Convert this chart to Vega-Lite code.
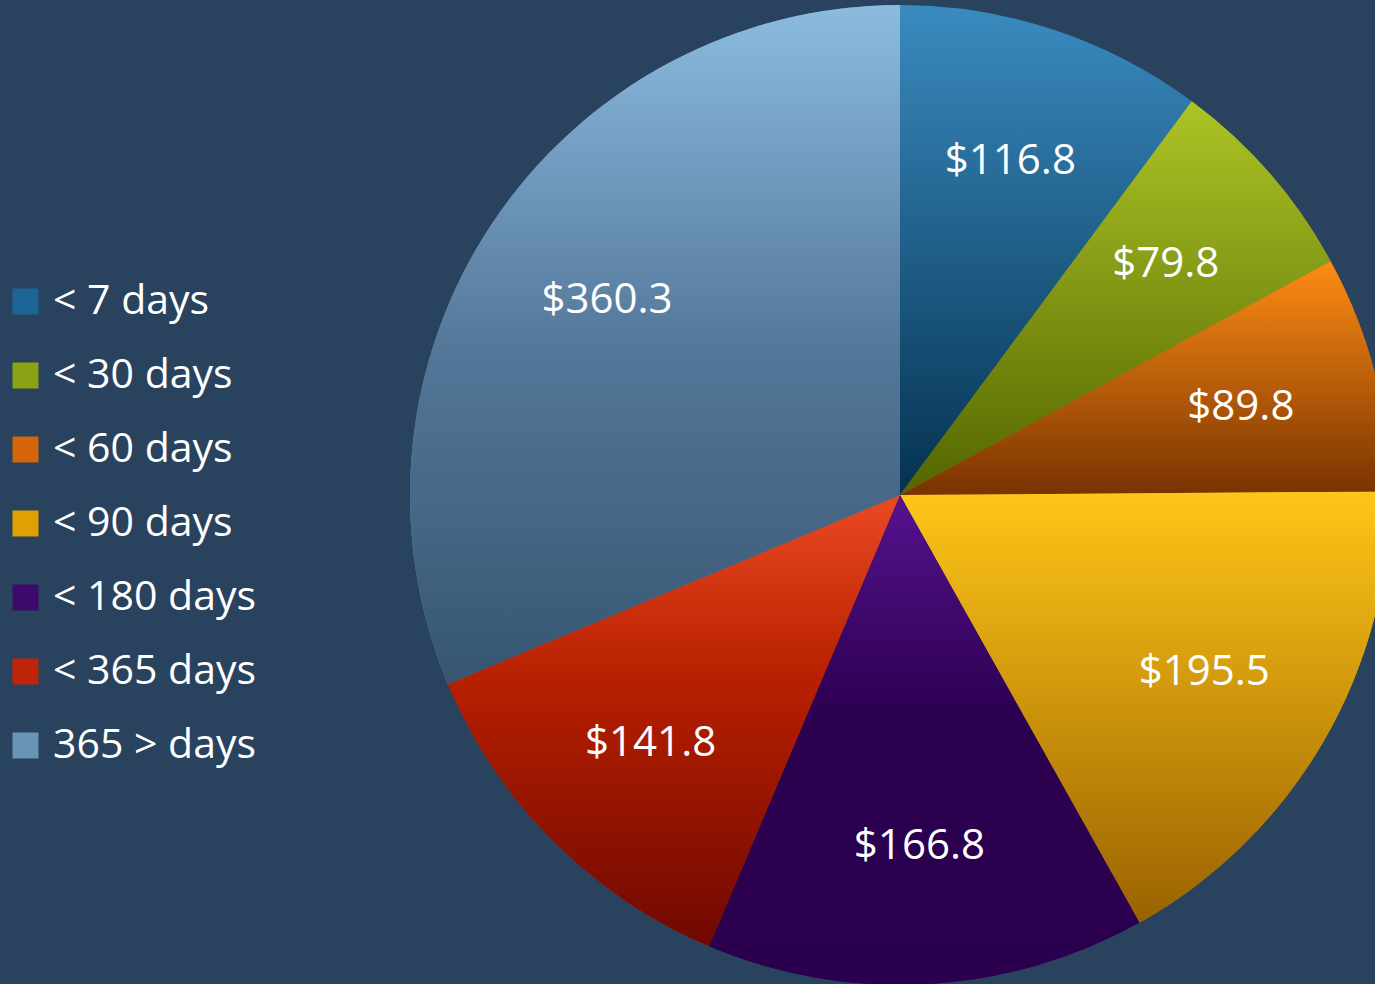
{
  "$schema": "https://vega.github.io/schema/vega-lite/v6.json",
  "autosize": "none",
  "width": 1800,
  "height": 990,
  "padding": 0,
  "background": "#29425e",
  "config": {"view": {"stroke": null}, "font": "Open Sans"},
  "data": {"values": [
    {"k": 1, "bucket": "< 7 days", "amount": 116.8, "label": "$116.8"},
    {"k": 2, "bucket": "< 30 days", "amount": 79.8, "label": "$79.8"},
    {"k": 3, "bucket": "< 60 days", "amount": 89.8, "label": "$89.8"},
    {"k": 4, "bucket": "< 90 days", "amount": 195.5, "label": "$195.5"},
    {"k": 5, "bucket": "< 180 days", "amount": 166.8, "label": "$166.8"},
    {"k": 6, "bucket": "< 365 days", "amount": 141.8, "label": "$141.8"},
    {"k": 7, "bucket": "365 > days", "amount": 360.3, "label": "$360.3"}
  ]},
  "encoding": {
    "theta": {"field": "amount", "type": "quantitative", "stack": true},
    "order": {"field": "k", "type": "quantitative"}
  },
  "layer": [
    {
      "mark": {"type": "arc", "outerRadius": 490},
      "encoding": {
        "color": {
          "field": "bucket", "type": "nominal",
          "sort": ["< 7 days", "< 30 days", "< 60 days", "< 90 days", "< 180 days", "< 365 days", "365 > days"],
          "scale": {
            "domain": ["< 7 days", "< 30 days", "< 60 days", "< 90 days", "< 180 days", "< 365 days", "365 > days"],
            "range": ["#1d6596", "#8aa214", "#d4650a", "#e0a000", "#3c0a6a", "#c02408", "#6a94b6"]
          },
          "legend": {
            "orient": "none", "legendX": 5, "legendY": 281,
            "title": null, "symbolType": "square", "symbolSize": 676,
            "symbolStrokeWidth": 0, "labelFontSize": 41, "labelColor": "#ffffff",
            "labelFont": "Open Sans", "labelOffset": 7, "rowPadding": 32, "padding": 0,
            "labelLimit": 400
          }
        }
      }
    },
    {
      "mark": {"type": "arc", "outerRadius": 490},
      "encoding": {
        "fill": {
          "condition": [
            {"test": "datum.k == 1", "value": {"gradient": "linear", "x1": 0, "y1": 0, "x2": 0, "y2": 1, "stops": [{"offset": 0, "color": "#3a8bc0"}, {"offset": 1, "color": "#053250"}]}},
            {"test": "datum.k == 2", "value": {"gradient": "linear", "x1": 0, "y1": 0, "x2": 0, "y2": 1, "stops": [{"offset": 0, "color": "#adc426"}, {"offset": 1, "color": "#536600"}]}},
            {"test": "datum.k == 3", "value": {"gradient": "linear", "x1": 0, "y1": 0, "x2": 0, "y2": 1, "stops": [{"offset": 0, "color": "#ff8c14"}, {"offset": 1, "color": "#783300"}]}},
            {"test": "datum.k == 4", "value": {"gradient": "linear", "x1": 0, "y1": 0, "x2": 0, "y2": 1, "stops": [{"offset": 0, "color": "#ffc618"}, {"offset": 1, "color": "#9a6200"}]}},
            {"test": "datum.k == 5", "value": {"gradient": "linear", "x1": 0, "y1": 0, "x2": 0, "y2": 1, "stops": [{"offset": 0, "color": "#56128e"}, {"offset": 0.45, "color": "#2b0050"}, {"offset": 1, "color": "#2a004e"}]}},
            {"test": "datum.k == 6", "value": {"gradient": "linear", "x1": 0, "y1": 0, "x2": 0, "y2": 1, "stops": [{"offset": 0, "color": "#ea4a22"}, {"offset": 0.4, "color": "#b82000"}, {"offset": 1, "color": "#700800"}]}}
          ],
          "value": {"gradient": "linear", "x1": 0, "y1": 0, "x2": 0, "y2": 1, "stops": [{"offset": 0, "color": "#8cbbe0"}, {"offset": 0.5, "color": "#54789a"}, {"offset": 1, "color": "#375570"}]}
        }
      }
    },
    {
      "mark": {"type": "text", "radius": 352, "fontSize": 42, "color": "#ffffff", "font": "Open Sans", "baseline": "middle", "align": "center"},
      "encoding": {"text": {"field": "label", "type": "nominal"}}
    }
  ]
}
